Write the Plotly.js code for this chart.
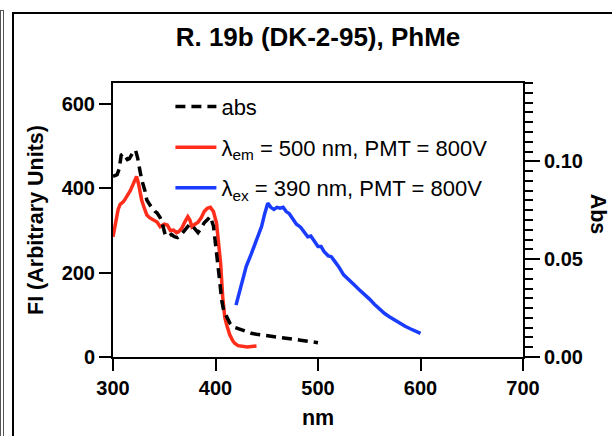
<!DOCTYPE html>
<html>
<head>
<meta charset="utf-8">
<script src="https://cdn.plot.ly/plotly-3.0.1.min.js"></script>
<style>
  html, body { margin: 0; padding: 0; background: #fff; }
  #wrap { position: relative; width: 612px; height: 436px; overflow: hidden; }
  #chart { position: absolute; left: 0; top: 0; width: 612px; height: 436px; }
  .frameA { position: absolute; left: 0px; top: 10px; width: 2px; height: 440px;
            border-left: 1px solid #555; border-right: 1px solid #555; border-top: 1px solid #555; }
  .frameB { position: absolute; left: 12px; top: 12px; width: 620px; height: 440px;
            border: 2px solid #000; }
</style>
</head>
<body>
<div id="wrap">
  <div id="chart"></div>
  <div class="frameA"></div>
  <div class="frameB"></div>
</div>
<script>
// Absorbance (right axis, Abs)
const absX = [300,302,304,306,308,310,312,314,316,318,320,322,324,326,328,331,333,336,338,341,343,346,348,351,354,357,360,363,366,369,372,375,378,381,383,386,389,392,395,398,400,402,404,406,408,411,414,417,422,426,430,435,440,447,455,462,470,476,483,490,495,500];
const absY = [0.0923,0.0928,0.0932,0.0960,0.1031,0.1040,0.1025,0.1009,0.1014,0.1035,0.1050,0.1057,0.1018,0.0960,0.0906,0.0852,0.0802,0.0777,0.0761,0.0744,0.0736,0.0712,0.0684,0.0623,0.0615,0.0626,0.0615,0.0610,0.0623,0.0641,0.0658,0.0679,0.0667,0.0647,0.0636,0.0658,0.0686,0.0701,0.0718,0.0669,0.0563,0.0475,0.0393,0.0291,0.0237,0.0205,0.0173,0.0155,0.0145,0.0136,0.0127,0.0121,0.0116,0.0112,0.0106,0.0101,0.0097,0.0091,0.0086,0.0080,0.0075,0.0073];

// Excitation spectrum, lambda_em = 500 nm (left axis)
const emX = [300,302,305,307,310,312,315,317,320,323,325,328,331,333,336,340,343,346,350,353,356,359,362,364,367,370,373,375,377,380,383,386,389,392,395,398,401,403,405,407,409,411,414,417,419,422,426,431,435,440];
const emY = [285,315,350,362,368,375,385,395,412,428,410,372,350,337,330,325,320,309,315,313,300,301,295,297,305,320,333,325,309,315,320,330,345,353,355,345,318,270,222,143,95,75,52,38,32,27,25,24,25,26];

// Emission spectrum, lambda_ex = 390 nm (left axis)
const exX = [420,425,430,435,440,445,448,451,454,457,460,463,466,469,472,475,479,483,487,490,493,496,500,503,506,510,513,516,520,525,530,535,540,545,550,555,560,565,570,575,580,585,590,595,600];
const exY = [123,170,215,245,275,310,340,365,355,350,355,353,355,345,340,330,315,308,295,285,287,276,262,262,250,240,238,228,215,195,182,172,160,150,138,125,113,103,95,87,80,73,67,62,56];

const xTicks = [300,400,500,600,700];
const yTicks = [0,200,400,600];
const y2Ticks = [0,0.05,0.10];
const y2TickText = ['0.00','0.05','0.10'];

const FONT = 'Liberation Sans, Arial, Helvetica, sans-serif';

const traces = [
  { x: absX, y: absY, yaxis: 'y2', type: 'scatter', mode: 'lines', name: 'abs',
    legendgroup: 'a', legendrank: 1,
    line: { color: '#000000', width: 3.5, dash: '10px,6px' } },
  { x: emX, y: emY, type: 'scatter', mode: 'lines', name: 'λ<sub>em</sub> = 500 nm, PMT = 800V',
    legendgroup: 'b', legendrank: 2,
    line: { color: '#ff2d1a', width: 3.5 } },
  { x: exX, y: exY, type: 'scatter', mode: 'lines', name: 'λ<sub>ex</sub> = 390 nm, PMT = 800V',
    legendgroup: 'c', legendrank: 3,
    line: { color: '#1a3cff', width: 3.5 } }
];

const layout = {
  width: 612, height: 436,
  margin: { l: 113, r: 89, t: 83, b: 79, pad: 0 },
  paper_bgcolor: 'rgba(0,0,0,0)', plot_bgcolor: 'rgba(0,0,0,0)',
  font: { family: FONT, color: '#000' },
  title: { text: 'R. 19b (DK-2-95), PhMe', font: { family: FONT, size: 26, weight: 'bold', color: '#000' },
           x: 0.5, xref: 'paper', xanchor: 'center', y: 0.915, yref: 'container', yanchor: 'middle' },
  xaxis: { range: [300, 700], tickvals: xTicks, ticks: 'outside', ticklen: 12, tickwidth: 2, tickcolor: '#000',
           showline: true, linewidth: 2, linecolor: '#000', mirror: true, showgrid: false, zeroline: false,
           tickfont: { family: FONT, size: 20, weight: 'bold' },
           title: { text: 'nm', font: { family: FONT, size: 21.5, weight: 'bold' }, standoff: 12 } },
  yaxis: { range: [0, 650], tickvals: yTicks, ticks: 'outside', ticklen: 12, tickwidth: 2, tickcolor: '#000',
           showline: true, linewidth: 2, linecolor: '#000', showgrid: false, zeroline: false,
           tickfont: { family: FONT, size: 20, weight: 'bold' },
           title: { text: 'FI (Arbitrary Units)', font: { family: FONT, size: 21.5, weight: 'bold' }, standoff: 12 } },
  yaxis2: { range: [0, 0.14], overlaying: 'y', side: 'right', tickvals: y2Ticks, ticktext: y2TickText,
            ticks: 'outside', ticklen: 15, tickwidth: 2, tickcolor: '#000',
            minor: { dtick: 0.005, tick0: 0, ticks: 'outside', ticklen: 8, tickwidth: 2, tickcolor: '#000', showgrid: false },
            showline: true, linewidth: 2, linecolor: '#000', showgrid: false, zeroline: false,
            tickfont: { family: FONT, size: 20, weight: 'bold' } },
  showlegend: true,
  legend: { x: 0.14, xanchor: 'left', y: 0.99, yanchor: 'top', bgcolor: 'rgba(0,0,0,0)',
            font: { family: FONT, size: 22, color: '#000' }, tracegroupgap: 9, itemwidth: 41,
            traceorder: 'grouped' },
  annotations: [
    { text: 'Abs', textangle: 90, xref: 'paper', yref: 'paper', x: 1.185, y: 0.52,
      xanchor: 'center', yanchor: 'middle', showarrow: false,
      font: { family: FONT, size: 21.5, weight: 'bold', color: '#000' } }
  ]
};

Plotly.newPlot('chart', traces, layout, { displayModeBar: false, staticPlot: true });
</script>
</body>
</html>
